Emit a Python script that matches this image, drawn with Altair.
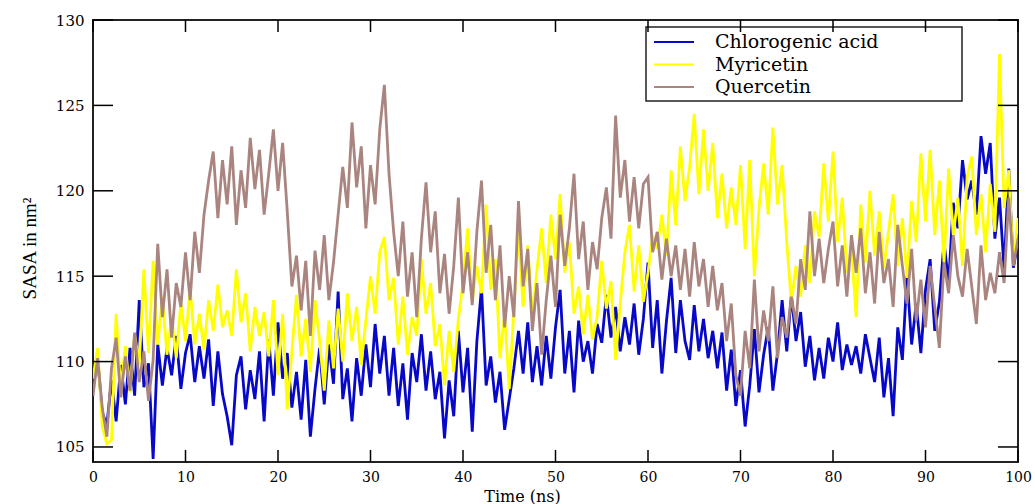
import altair as alt
import pandas as pd

# Simulation time axis, one sample every 0.5 ns
time_ns = [round(i * 0.5, 1) for i in range(201)]

# Solvent accessible surface area (nm^2) per ligand complex
chlorogenic_acid = [
    108.5, 110.2, 107.0, 106.3, 108.9, 106.5, 109.8, 107.5, 110.8, 108.0,
    113.6, 108.5, 109.9, 104.3, 111.0, 108.6, 110.8, 109.2, 111.5, 108.4,
    110.5, 111.6, 108.8, 110.9, 109.0, 111.3, 107.4, 110.6, 108.1, 106.8,
    105.1, 109.2, 110.3, 107.2, 109.5, 107.8, 110.6, 106.5, 111.3, 108.0,
    112.3, 109.0, 110.5, 107.3, 109.4, 106.6, 110.1, 105.6, 108.4, 110.8,
    107.5, 111.0, 108.7, 114.1, 107.8, 109.6, 106.5, 110.2, 108.0, 111.0,
    108.5, 112.2, 109.3, 111.5, 108.0, 110.8, 107.4, 109.9, 106.6, 110.5,
    108.8, 111.6, 108.3, 110.6, 107.8, 109.4, 105.5, 108.9, 106.8, 111.8,
    108.2, 110.8, 105.9, 111.2, 114.3, 108.6, 110.3, 107.6, 109.4, 106.0,
    107.8, 109.6, 111.8, 109.3, 112.3, 108.8, 110.9, 108.6, 111.5, 109.0,
    112.0, 114.2, 109.3, 111.8, 108.2, 112.4, 110.0, 111.2, 109.3, 112.2,
    111.1, 113.9, 111.4, 113.2, 110.6, 112.6, 111.0, 113.4, 110.4, 112.5,
    115.8, 110.8, 113.6, 109.3, 112.4, 114.9, 110.5, 113.6, 111.2, 110.1,
    113.3, 110.6, 112.5, 110.2, 111.8, 109.6, 111.7, 108.3, 110.7, 107.4,
    109.5, 106.2, 108.6, 111.9, 108.2, 110.4, 112.0, 108.3, 110.5, 113.6,
    110.6, 113.9, 111.2, 112.9, 109.7, 111.5, 108.9, 110.8, 109.0, 111.4,
    110.0, 112.3, 109.5, 111.0, 109.8, 110.9, 109.3, 111.6, 110.2, 108.8,
    111.4, 107.9, 110.2, 106.8, 112.0, 110.1, 115.0, 111.0, 113.4, 110.5,
    114.2, 116.0, 111.8, 113.5, 117.0, 114.6, 119.3, 117.8, 121.8, 119.5,
    120.6, 118.6, 123.2, 121.0, 122.8, 117.2, 119.6, 115.4, 121.3, 115.5,
    117.0,
]

myricetin = [
    109.0, 110.8, 106.2, 105.2, 105.4, 112.8, 108.4, 110.9, 108.2, 111.6,
    109.8, 115.4, 110.5, 115.9, 111.0, 113.8, 110.4, 112.6, 110.2, 113.5,
    111.2, 114.3, 111.0, 112.8, 110.7, 113.6, 111.8, 114.5, 112.0, 113.0,
    111.5, 115.4, 112.3, 114.0, 110.6, 113.2, 111.5, 112.9, 110.3, 113.6,
    109.2, 112.8, 107.2, 110.6, 113.9, 110.3, 112.5, 109.4, 113.6, 111.2,
    108.3, 112.4, 109.6, 113.1, 110.0, 114.0, 111.2, 113.2, 109.8, 112.4,
    115.0, 112.8, 116.4, 117.3, 113.6, 114.9, 111.0, 113.8, 110.4, 112.6,
    111.5, 116.0, 112.8, 114.6, 110.9, 112.2, 108.6, 111.8, 109.4, 112.5,
    114.6, 117.8, 113.5, 115.6, 114.0, 119.2, 114.2, 116.0, 110.2, 112.8,
    108.4, 113.0, 117.6, 113.2, 116.8, 112.6, 115.4, 117.8, 114.6, 118.6,
    116.0, 119.8, 115.2, 117.0, 112.8, 114.4, 111.6, 113.9, 111.3, 112.6,
    115.9, 113.1, 114.7, 110.1, 113.4, 116.4, 118.0, 114.1, 116.8, 113.5,
    115.2, 117.4, 116.6, 118.6, 116.2, 121.2, 118.0, 122.6, 119.4, 121.4,
    124.5, 119.8, 123.6, 120.0, 122.8, 118.4, 121.0, 117.8, 120.2, 118.0,
    121.5, 116.6, 121.8, 115.0, 119.0, 121.6, 118.6, 123.7, 119.2, 121.5,
    117.0, 113.4, 115.6, 113.8, 116.8, 114.6, 118.8, 117.3, 121.6, 118.2,
    122.3, 117.0, 119.6, 115.2, 116.6, 112.6, 119.2, 115.8, 120.0, 116.2,
    118.8, 115.5, 117.6, 119.8, 115.6, 118.4, 114.9, 119.4, 117.0, 122.2,
    118.2, 122.4, 117.4, 120.6, 115.8, 121.3, 117.4, 119.6, 115.6, 120.8,
    122.0, 117.4, 119.8, 116.4, 120.4, 117.6, 128.0, 119.0, 121.2, 115.6,
    118.4,
]

quercetin = [
    108.0, 110.2, 107.3, 105.6, 109.6, 111.4, 107.9, 110.3, 108.3, 111.7,
    108.8, 110.6, 107.7, 110.1, 116.9, 112.6, 115.4, 111.4, 114.6, 113.2,
    116.4, 113.6, 117.6, 115.2, 118.6, 120.6, 122.3, 118.4, 121.8, 119.2,
    122.6, 118.0, 121.2, 119.0, 123.1, 120.1, 122.4, 118.6, 121.0, 123.6,
    120.0, 122.8, 118.8, 114.4, 116.2, 113.0, 115.9, 111.5, 116.5, 114.2,
    117.4, 113.6, 115.8, 118.6, 121.4, 119.0, 124.0, 120.2, 122.6, 117.8,
    121.5, 119.2, 123.6, 126.2, 121.0, 117.6, 115.0, 118.2, 113.8, 116.4,
    112.6, 117.2, 120.5, 116.4, 118.8, 114.0, 116.3, 112.8, 115.6, 119.6,
    114.0, 116.4, 113.3, 117.6, 120.6, 115.2, 118.0, 113.6, 116.8, 112.0,
    115.0, 112.6, 119.4, 114.4, 116.6, 111.8, 114.6, 110.4, 113.6, 116.2,
    113.2, 118.6, 115.6, 117.8, 121.0, 116.0, 118.2, 114.2, 117.0, 115.4,
    118.4, 120.2, 117.2, 124.4, 119.6, 121.8, 118.2, 120.8, 117.8, 120.4,
    120.8, 116.4, 117.6, 114.8, 117.2, 115.0, 116.8, 114.2, 116.6, 113.8,
    117.0, 114.4, 116.0, 113.2, 115.6, 113.0, 114.6, 111.2, 113.4, 109.2,
    108.0, 111.8, 109.6, 114.8, 110.6, 113.0, 111.2, 114.4, 110.2, 112.6,
    111.4, 113.8, 112.2, 116.0, 114.2, 118.8, 115.0, 117.2, 114.6, 116.6,
    118.2, 114.4, 116.8, 113.8, 117.4, 115.2, 117.8, 114.0, 116.4, 113.4,
    117.6, 114.6, 116.0, 113.2, 118.0, 115.6, 113.4, 116.6, 112.4, 114.8,
    112.0, 115.6, 113.2, 110.8, 115.8, 114.0, 117.4, 115.0, 113.8, 116.6,
    114.4, 112.2, 116.8, 113.6, 115.2, 114.0, 116.4, 114.6, 119.6, 115.6,
    117.2,
]

series_names = ["Chlorogenic acid", "Myricetin", "Quercetin"]
series_colors = ["#0808c8", "#ffff00", "#aa8580"]
x_ticks = [0, 10, 20, 30, 40, 50, 60, 70, 80, 90, 100]
y_ticks = [105, 110, 115, 120, 125, 130]

W, H = 925, 442

frames = []
for name, vals in zip(series_names, [chlorogenic_acid, myricetin, quercetin]):
    frames.append(pd.DataFrame({"time": time_ns, "sasa": vals, "compound": name}))
df = pd.concat(frames, ignore_index=True)

x_scale = alt.Scale(domain=[0, 100], nice=False, zero=False)
y_scale = alt.Scale(domain=[104.12, 130], nice=False, zero=False)
color_scale = alt.Scale(domain=series_names, range=series_colors)

serif = "DejaVu Serif"

x_axis = alt.Axis(
    values=x_ticks, ticks=False, domain=False, grid=False,
    labelFont=serif, labelFontSize=14, labelPadding=8, labelColor="black",
    labelFlush=False,
    title="Time (ns)", titleFont=serif, titleFontSize=16, titleFontWeight="normal",
    titleColor="black", titleX=429, titleY=39, titleBaseline="alphabetic",
)
y_axis = alt.Axis(
    values=y_ticks, ticks=False, domain=False, grid=False,
    labelFont=serif, labelFontSize=15, labelPadding=9, labelColor="black",
    title="SASA in nm²", titleFont="Liberation Serif", titleFontSize=19,
    titleFontWeight="normal", titleColor="black", titleAngle=270,
    titleX=-58, titleY=228, titleAlign="center", titleBaseline="alphabetic",
)
# Legend swatches: a long horizontal stroke on a compact row height
legend = alt.Legend(
    title=None, orient="none", legendX=570, legendY=11,
    symbolType="M-2,0L2,0", symbolSize=400, symbolStrokeWidth=2,
    labelFont=serif, labelFontSize=19, labelColor="black", labelOffset=30,
    labelLimit=400, rowPadding=1.5, padding=0,
)

base = alt.Chart(df)


def series_line(name):
    return base.transform_filter(alt.datum.compound == name).mark_line(
        strokeWidth=2.8, clip=True
    ).encode(
        x=alt.X("time:Q", scale=x_scale, axis=x_axis),
        y=alt.Y("sasa:Q", scale=y_scale, axis=y_axis),
        color=alt.Color("compound:N", scale=color_scale, legend=legend),
    )


lines = [series_line(n) for n in series_names]

# White framed box behind the legend entries
legend_box = alt.Chart(pd.DataFrame({"k": [0]})).mark_rect(
    fill="white", stroke="#222222", strokeWidth=1.5
).encode(
    x=alt.value(553), x2=alt.value(869), y=alt.value(7), y2=alt.value(81)
)

# Inward-pointing mirrored tick marks
xt = alt.Chart(pd.DataFrame({"v": x_ticks}))
yt = alt.Chart(pd.DataFrame({"v": y_ticks}))
tick_style = dict(color="black", strokeWidth=1.5)
x_bottom = xt.mark_rule(**tick_style).encode(
    x=alt.X("v:Q", scale=x_scale, axis=x_axis), y=alt.value(H), y2=alt.value(H - 12)
)
x_top = xt.mark_rule(**tick_style).encode(
    x=alt.X("v:Q", scale=x_scale, axis=x_axis), y=alt.value(0), y2=alt.value(12)
)
y_left = yt.mark_rule(**tick_style).encode(
    y=alt.Y("v:Q", scale=y_scale, axis=y_axis), x=alt.value(0), x2=alt.value(20)
)
y_right = yt.mark_rule(**tick_style).encode(
    y=alt.Y("v:Q", scale=y_scale, axis=y_axis), x=alt.value(W - 20), x2=alt.value(W)
)

chart = alt.layer(
    *lines, legend_box, x_bottom, x_top, y_left, y_right
).properties(
    width=W, height=H,
    autosize=alt.AutoSizeParams(type="none"),
    padding={"left": 93, "top": 20, "right": 17, "bottom": 42},
    background="white",
).configure_view(
    stroke="#222222", strokeWidth=2
)

chart.save("out.html", embed_options={"renderer": "svg", "actions": False})
